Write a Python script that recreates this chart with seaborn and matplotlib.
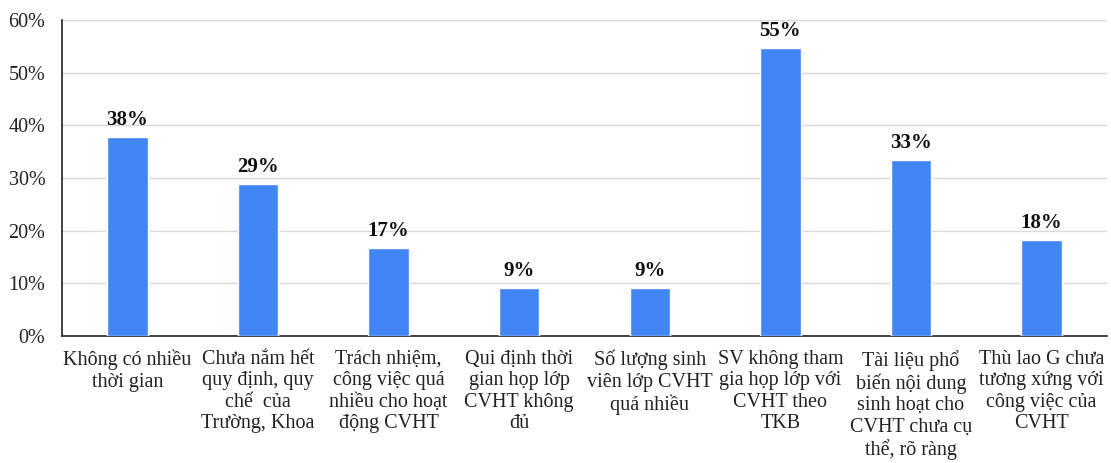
import matplotlib
matplotlib.use("Agg")
import matplotlib.pyplot as plt
import seaborn as sns
import pandas as pd
from matplotlib.ticker import FuncFormatter

categories = [
    "Không có nhiều\nthời gian",
    "Chưa nắm hết\nquy định, quy\nchế  của\nTrường, Khoa",
    "Trách nhiệm,\ncông việc quá\nnhiều cho hoạt\nđộng CVHT",
    "Qui định thời\ngian họp lớp\nCVHT không\nđủ",
    "Số lượng sinh\nviên lớp CVHT\nquá nhiều",
    "SV không tham\ngia họp lớp với\nCVHT theo\nTKB",
    "Tài liệu phổ\nbiến nội dung\nsinh hoạt cho\nCVHT chưa cụ\nthể, rõ ràng",
    "Thù lao G chưa\ntương xứng với\ncông việc của\nCVHT",
]
values = [37.8, 28.9, 16.7, 9.1, 9.1, 54.7, 33.4, 18.2]
value_labels = ["38%", "29%", "17%", "9%", "9%", "55%", "33%", "18%"]
yticks = [0, 10, 20, 30, 40, 50, 60]

sns.set_theme(style="white")
plt.rcParams["font.family"] = ["Liberation Serif", "DejaVu Serif"]

df = pd.DataFrame({"cat": categories, "val": values})

fig = plt.figure(figsize=(11.11, 4.63), dpi=100)
ax = fig.add_axes([0.0558, 0.2743, 0.9406, 0.6825])
sns.barplot(data=df, x="cat", y="val", color="#4285F4", saturation=1, width=0.31, ax=ax, zorder=3)

ax.set_ylim(0, 60)
ax.set_yticks(yticks)
ax.yaxis.set_major_formatter(FuncFormatter(lambda v, p: f"{int(v)}%"))
ax.grid(axis="y", color="#d9d9d9", linewidth=1, zorder=0)
ax.set_axisbelow(True)
ax.set_xlabel("")
ax.set_ylabel("")
for s in ["top", "right"]:
    ax.spines[s].set_visible(False)
for s in ["left", "bottom"]:
    ax.spines[s].set_color("#222222")
    ax.spines[s].set_linewidth(1.2)
ax.tick_params(axis="y", labelsize=14.5, colors="#222222", length=0, pad=12)
ax.tick_params(axis="x", labelsize=14.5, colors="#222222", length=0, pad=10)
for t in ax.get_xticklabels():
    t.set_linespacing(1.17)
    t.set_verticalalignment("top")

for container in ax.containers:
    ax.bar_label(container, labels=value_labels, padding=5, fontsize=15, fontweight="bold", color="#111111")

fig.savefig("out.png", dpi=100)
